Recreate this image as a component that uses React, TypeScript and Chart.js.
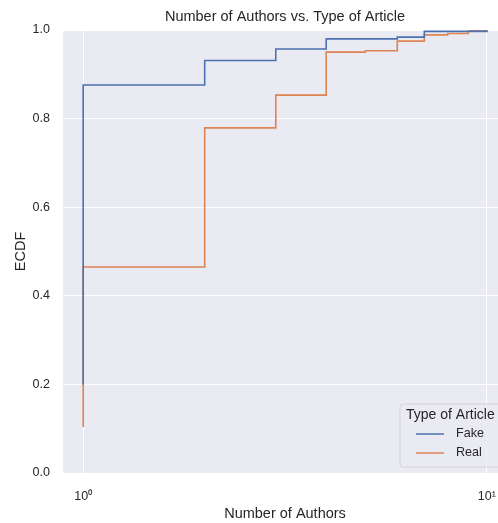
import React, { useEffect, useRef } from 'react';
import { Chart, registerables } from 'chart.js';

Chart.register(...registerables);

// ---- data ----
const seriesNames = ['Fake', 'Real'];
const fakeAuthors = [1, 1, 2, 3, 4, 6, 7, 10];
const fakeEcdf = [0.2, 0.876, 0.931, 0.957, 0.98, 0.984, 0.997, 1.0];
const realAuthors = [1, 1, 2, 3, 4, 5, 6, 7, 8, 9, 10];
const realEcdf = [0.104, 0.465, 0.779, 0.853, 0.95, 0.953, 0.975, 0.989, 0.992, 0.998, 1.0];
const xTickValues = [1, 10];
const xTickLabels = ['10\u2070', '10\u00b9'];
const yTickValues = [0, 0.2, 0.4, 0.6, 0.8, 1.0];
const chartTitle = 'Number of Authors vs. Type of Article';
const xTitle = 'Number of Authors';
const yTitle = 'ECDF';
const legendTitle = 'Type of Article';

const COLORS = ['#4c72b0', '#dd8452'];
const FONT = "'Liberation Sans', Arial, sans-serif";
const TEXT = '#262626';

const CANVAS_W = 512;
const CANVAS_H = 523;

const bgPlugin = {
  id: 'bgPlugin',
  beforeDraw(chart: any) {
    const { ctx, chartArea: a } = chart;
    ctx.save();
    ctx.fillStyle = '#eaeaf2';
    ctx.fillRect(a.left, a.top, a.right - a.left, a.bottom - a.top);
    ctx.restore();
  },
};

const titlePlugin = {
  id: 'titlePlugin',
  afterDraw(chart: any) {
    const { ctx, chartArea: a } = chart;
    ctx.save();
    ctx.font = `14.5px ${FONT}`;
    ctx.fillStyle = TEXT;
    ctx.textAlign = 'center';
    ctx.textBaseline = 'middle';
    ctx.fillText(chartTitle, (a.left + a.right) / 2, 17);
    ctx.restore();
  },
};

const legendPlugin = {
  id: 'legendPlugin',
  afterDraw(chart: any) {
    const { ctx } = chart;
    ctx.save();
    const x0 = 400, y0 = 404, x1 = 504, y1 = 467, r = 3;
    ctx.beginPath();
    ctx.moveTo(x0 + r, y0);
    ctx.lineTo(x1 - r, y0);
    ctx.arcTo(x1, y0, x1, y0 + r, r);
    ctx.lineTo(x1, y1 - r);
    ctx.arcTo(x1, y1, x1 - r, y1, r);
    ctx.lineTo(x0 + r, y1);
    ctx.arcTo(x0, y1, x0, y1 - r, r);
    ctx.lineTo(x0, y0 + r);
    ctx.arcTo(x0, y0, x0 + r, y0, r);
    ctx.closePath();
    ctx.fillStyle = 'rgba(234,234,242,0.8)';
    ctx.fill();
    ctx.strokeStyle = 'rgba(204,204,204,0.8)';
    ctx.lineWidth = 1;
    ctx.stroke();

    ctx.fillStyle = TEXT;
    ctx.textBaseline = 'middle';
    ctx.textAlign = 'left';
    ctx.font = `14px ${FONT}`;
    ctx.fillText(legendTitle, 406, 415);
    ctx.font = `12.6px ${FONT}`;
    const rows = [434, 453];
    seriesNames.forEach((name, i) => {
      ctx.strokeStyle = COLORS[i];
      ctx.lineWidth = 1.5;
      ctx.beginPath();
      ctx.moveTo(416, rows[i]);
      ctx.lineTo(444, rows[i]);
      ctx.stroke();
      ctx.fillStyle = TEXT;
      ctx.fillText(name, 456, rows[i]);
    });
    ctx.restore();
  },
};

export default function App() {
  const ref = useRef<HTMLCanvasElement | null>(null);

  useEffect(() => {
    if (!ref.current) return;
    const xs = [fakeAuthors, realAuthors];
    const ys = [fakeEcdf, realEcdf];
    const chart = new Chart(ref.current, {
      type: 'line',
      data: {
        datasets: seriesNames.map((name, i) => ({
          label: name,
          data: xs[i].map((x, j) => ({ x, y: ys[i][j] })),
          borderColor: COLORS[i],
          backgroundColor: COLORS[i],
          borderWidth: 1.6,
          pointRadius: 0,
          stepped: 'before' as const,
          fill: false,
          clip: false as any,
        })),
      },
      options: {
        animation: false,
        responsive: false,
        devicePixelRatio: 1,
        layout: { padding: { top: 30, left: 0, right: 3, bottom: 0 } },
        plugins: {
          legend: { display: false },
          title: { display: false },
          tooltip: { enabled: false },
        },
        scales: {
          x: {
            type: 'logarithmic',
            min: Math.pow(10, -0.05),
            max: Math.pow(10, 1.05),
            afterBuildTicks: (s: any) => {
              s.ticks = xTickValues.map((v) => ({ value: v }));
            },
            afterFit: (s: any) => {
              s.height = 50;
            },
            grid: { color: '#ffffff', lineWidth: 1, drawTicks: false },
            border: { display: false },
            ticks: {
              autoSkip: false,
              maxRotation: 0,
              padding: 16,
              color: TEXT,
              font: { family: FONT, size: 12.5 },
              callback: (_v: any, i: number) => xTickLabels[i],
            },
            title: {
              display: true,
              text: xTitle,
              color: TEXT,
              font: { family: FONT, size: 14.5 },
              padding: { top: 0, bottom: 0 },
            },
          },
          y: {
            type: 'linear',
            min: 0,
            max: 1,
            afterBuildTicks: (s: any) => {
              s.ticks = yTickValues.map((v) => ({ value: v }));
            },
            afterFit: (s: any) => {
              s.width = 63;
            },
            grid: { color: '#ffffff', lineWidth: 1, drawTicks: false },
            border: { display: false },
            ticks: {
              padding: 13,
              color: TEXT,
              font: { family: FONT, size: 12.5 },
              callback: (v: any) => Number(v).toFixed(1),
            },
            title: {
              display: true,
              text: yTitle,
              color: TEXT,
              font: { family: FONT, size: 14.5 },
              padding: { top: 12, bottom: 0 },
            },
          },
        },
      },
      plugins: [bgPlugin, titlePlugin, legendPlugin],
    } as any);
    return () => chart.destroy();
  }, []);

  return (
    <div
      style={{
        position: 'absolute',
        left: 0,
        top: 0,
        width: 498,
        height: 523,
        overflow: 'hidden',
        background: '#ffffff',
      }}
    >
      <canvas
        ref={ref}
        width={CANVAS_W}
        height={CANVAS_H}
        style={{ display: 'block', width: CANVAS_W, height: CANVAS_H }}
      />
    </div>
  );
}
